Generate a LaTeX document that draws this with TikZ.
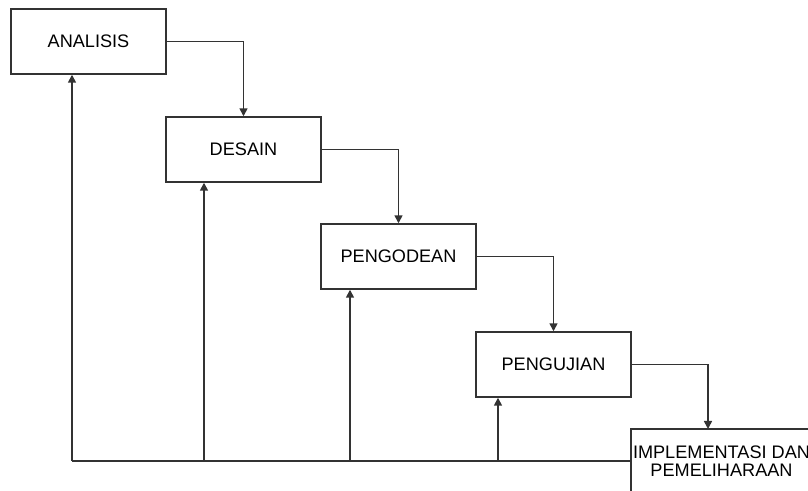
\documentclass[tikz,border=0pt]{standalone}
\usepackage{fontspec}
\setmainfont{Liberation Sans}
\usetikzlibrary{arrows.meta}
\begin{document}
\begin{tikzpicture}[x=0.75pt,y=-0.75pt,
  box/.style={draw=black!80,line width=1.1pt,fill=white,minimum width=116.25pt,minimum height=48.75pt,inner sep=0pt,font=\fontsize{13.6}{13.5}\selectfont,align=center},
  link/.style={draw=black!80,line width=1.2pt},
  arr/.style={link,-{Triangle[width=6pt,length=6pt]}}]
\useasboundingbox (0,0) rectangle (808,491);
\clip (0,0) rectangle (808,491);
\node[box] (A) at (88.5,41.5) {ANALISIS};
\node[box] (D) at (243.5,149.5) {DESAIN};
\node[box] (P) at (398.5,256.5) {PENGODEAN};
\node[box] (U) at (553.5,364.5) {PENGUJIAN};
\node[box,minimum width=135.75pt] (I) at (721.5,461.5) {IMPLEMENTASI DAN\\PEMELIHARAAN};
\draw[arr] (A.east) -| (D.north);
\draw[arr] (D.east) -| (P.north);
\draw[arr] (P.east) -| (U.north);
\draw[arr] (U.east) -| (708,429);
\coordinate (fa) at (72,461);
\coordinate (fd) at (204,461);
\coordinate (fp) at (350,461);
\coordinate (fu) at (498,461);
\draw[link] (I.west |- fa) -- (fa);
\draw[arr] (fa) -- (fa |- A.south);
\draw[arr] (fd) -- (fd |- D.south);
\draw[arr] (fp) -- (fp |- P.south);
\draw[arr] (fu) -- (fu |- U.south);
\end{tikzpicture}
\end{document}
